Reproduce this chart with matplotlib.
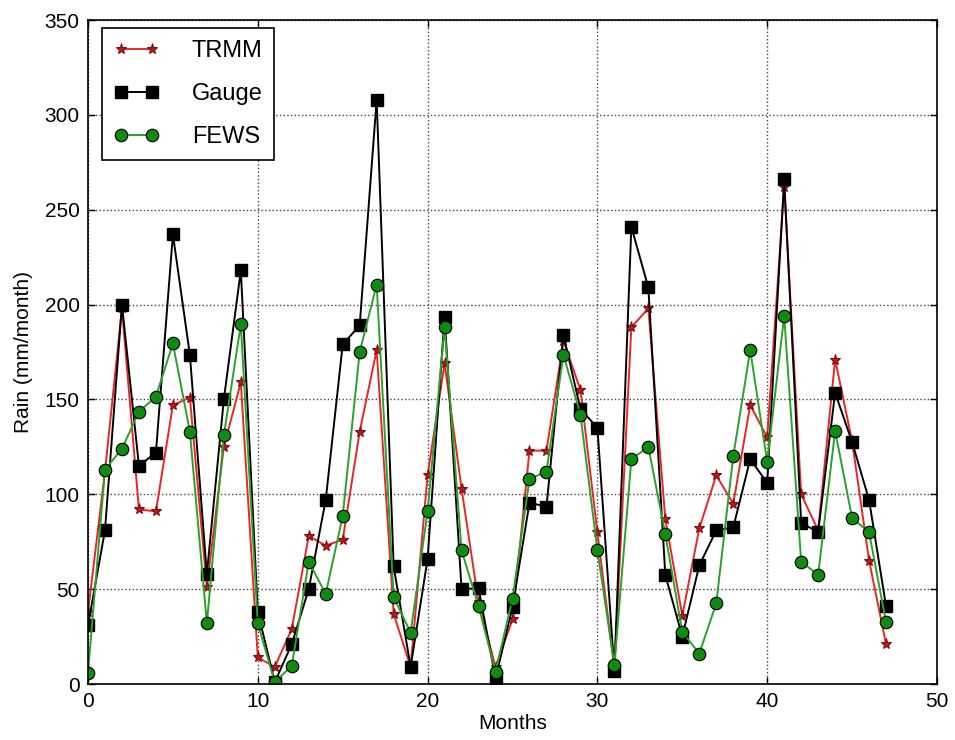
import matplotlib
matplotlib.use("Agg")
import matplotlib.pyplot as plt
import numpy as np

months = list(range(48))

trmm = [38, 112, 198, 92, 91, 147, 151, 51, 125, 159,
        14, 9, 29, 78, 73, 76, 133, 176, 37, 9,
        110, 169, 103, 43, 9, 34, 123, 123, 181, 155,
        80, 8, 188, 198, 87, 36, 82, 110, 95, 147,
        130, 262, 100, 81, 171, 128, 65, 21]

gauge = [31, 81, 200, 115, 122, 237, 173.5, 58, 150, 218,
         38, 1, 21, 50, 97, 179, 189, 308, 62, 9,
         66, 193.5, 50, 50.5, 3, 40.5, 95.5, 93.5, 184, 145,
         135, 7, 241, 209, 57.5, 25, 62.5, 81, 82.5, 118.5,
         106, 266, 85, 80, 153.5, 127.5, 97, 41]

fews = [6, 113, 124, 143.5, 151.5, 179.5, 133, 32, 131, 189.5,
        32, 1, 9.5, 64.5, 47.5, 88.5, 175, 210.5, 46, 27,
        91, 188, 70.5, 41, 6.5, 45, 108, 112, 173.5, 142,
        70.5, 10, 118.5, 125, 79, 27.5, 16, 42.5, 120, 176,
        117, 194, 64.5, 57.5, 133.5, 87.5, 80, 32.5]

plt.rcParams['font.family'] = ['Liberation Sans', 'DejaVu Sans']

fig = plt.figure(figsize=(9.55, 7.4), dpi=100)
ax = fig.add_axes([88/955, 56/740, (937-88)/955, (684-20)/740])

ax.plot(months, trmm, color='#e8262a', lw=1.4, marker='*', ms=8,
        mfc='#c0151b', mec='#7a1010', mew=0.8, label='TRMM')
ax.plot(months, gauge, color='black', lw=1.4, marker='s', ms=9,
        mfc='black', mec='black', label='Gauge')
ax.plot(months, fews, color='#2ca02c', lw=1.4, marker='o', ms=9,
        mfc='#118a11', mec='black', mew=0.8, label='FEWS')

ax.set_xlim(0, 50)
ax.set_ylim(0, 350)
ax.set_xticks(np.arange(0, 51, 10))
ax.set_yticks(np.arange(0, 351, 50))
ax.grid(True, linestyle=':', color='#444444', linewidth=1.0)
ax.tick_params(direction='in', top=True, right=True, labelsize=15, length=5, width=1, pad=6)
for s in ax.spines.values():
    s.set_linewidth(1.2)
ax.set_xlabel('Months', fontsize=15, labelpad=2)
ax.set_ylabel('Rain (mm/month)', fontsize=15, labelpad=8)

leg = ax.legend(loc='upper left', bbox_to_anchor=(14/849, 1-8/664), borderaxespad=0,
                numpoints=2, fontsize=17, handlelength=1.9,
                labelspacing=0.9, borderpad=0.5, handletextpad=1.4,
                fancybox=False, framealpha=1)
leg.get_frame().set_edgecolor('black')
leg.get_frame().set_linewidth(1.2)

fig.savefig('out.png', dpi=100)
